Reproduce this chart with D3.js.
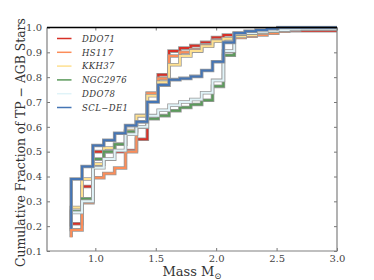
<!doctype html>
<html>
<head>
<meta charset="utf-8">
<script src="https://d3js.org/d3.v7.min.js"></script>
<style>
body { margin: 0; background: #fff; }
</style>
</head>
<body>
<svg width="374" height="280"></svg>
<script>
// bin edges of the cumulative histograms (Msun)
var edges = [0.80, 0.89, 0.98, 1.07, 1.16, 1.25, 1.34, 1.43, 1.52, 1.61, 1.70, 1.79, 1.88,
             1.97, 2.06, 2.15, 2.24, 2.33, 2.42, 2.51, 2.60, 2.69, 2.78, 2.87, 2.96]
var names = ["DDO71", "HS117", "KKH37", "NGC2976", "DDO78", "SCL\u2212DE1"]
var colors = ["#d73027", "#fc8d59", "#fee090", "#5b9a5b", "#e0f3f8", "#4575b4"]
var start_vals = [0.18, 0.155, 0.2, 0.2, 0.2, 0.19]

var ddo71   = [0.21, 0.36, 0.50, 0.50, 0.50, 0.505, 0.55, 0.735, 0.81, 0.905, 0.917, 0.927, 0.94,
               0.96, 0.97, 0.977, 0.982, 0.985, 0.987, 0.987, 0.987, 0.987, 0.987, 0.987, 0.987]
var hs117   = [0.185, 0.295, 0.395, 0.412, 0.434, 0.50, 0.645, 0.735, 0.795, 0.885, 0.90, 0.91, 0.93,
               0.948, 0.955, 0.96, 0.965, 0.97, 0.977, 0.985, 0.99, 0.993, 0.995, 0.995, 0.995]
var kkh37   = [0.275, 0.39, 0.45, 0.515, 0.53, 0.585, 0.645, 0.725, 0.78, 0.85, 0.885, 0.905, 0.925,
               0.945, 0.955, 0.965, 0.97, 0.978, 0.985, 0.99, 0.993, 0.995, 0.995, 0.995, 0.995]
var ngc2976 = [0.26, 0.31, 0.47, 0.50, 0.53, 0.58, 0.60, 0.633, 0.645, 0.665, 0.678, 0.69, 0.707,
               0.763, 0.888, 0.973, 0.977, 0.982, 0.985, 0.99, 0.993, 0.995, 0.995, 0.995, 0.995]
var ddo78   = [0.255, 0.30, 0.435, 0.47, 0.505, 0.57, 0.60, 0.645, 0.667, 0.687, 0.70, 0.71, 0.737,
               0.787, 0.905, 0.975, 0.978, 0.983, 0.987, 0.99, 0.993, 0.995, 0.995, 0.995, 0.995]
var scl_de1 = [0.39, 0.44, 0.525, 0.546, 0.574, 0.605, 0.62, 0.70, 0.768, 0.79, 0.795, 0.803, 0.827,
               0.862, 0.94, 0.978, 0.985, 0.99, 0.995, 1.0, 1.0, 1.0, 1.0, 1.0, 1.0]
var series = [ddo71, hs117, kkh37, ngc2976, ddo78, scl_de1]

var x_ticks = [1.0, 1.5, 2.0, 2.5, 3.0]
var y_ticks = [0.1, 0.2, 0.3, 0.4, 0.5, 0.6, 0.7, 0.8, 0.9, 1.0]

var svg = d3.select("svg")
var p_left = 47, p_right = 337, p_top = 27.5, p_bottom = 251
var font = "'DejaVu Serif', 'Liberation Serif', serif"

var x = d3.scaleLinear().domain([0.6, 3.0]).range([p_left, p_right])
var y = d3.scaleLinear().domain([0.1, 1.0]).range([p_bottom, p_top])

svg.append("defs").append("clipPath").attr("id", "clip")
    .append("rect").attr("x", p_left).attr("y", p_top - 2)
    .attr("width", p_right - p_left).attr("height", p_bottom - p_top + 2)

// data lines, each with a grey outline underneath
var line = d3.line()
    .x(function (d) { return x(d[0]) })
    .y(function (d) { return y(d[1]) })
    .curve(d3.curveStepAfter)

var plot = svg.append("g").attr("clip-path", "url(#clip)")
series.forEach(function (vals, i) {
    var pts = [[edges[0], start_vals[i]]]
    vals.forEach(function (v, k) { pts.push([edges[k], v]) })
    pts.push([3.0, vals[vals.length - 1]])
    plot.append("path").attr("d", line(pts))
        .attr("fill", "none").attr("stroke", "#9a9a9a").attr("stroke-width", 3.6)
    plot.append("path").attr("d", line(pts))
        .attr("fill", "none").attr("stroke", colors[i]).attr("stroke-width", 2)
})

// axes: ticks point inward on all four sides
function style_axis(g) {
    g.select(".domain").remove()
    g.selectAll(".tick line").attr("stroke", "#777")
    g.selectAll(".tick text").attr("font-family", font).attr("font-size", "10px").attr("fill", "#444")
}
svg.append("g").attr("transform", "translate(0," + p_bottom + ")")
    .call(d3.axisBottom(x).tickValues(x_ticks).tickFormat(d3.format(".1f")).tickSizeInner(-3).tickPadding(4))
    .call(style_axis)
svg.append("g").attr("transform", "translate(0," + p_top + ")")
    .call(d3.axisTop(x).tickValues(x_ticks).tickSizeInner(-3).tickFormat(""))
    .call(style_axis)
svg.append("g").attr("transform", "translate(" + p_left + ",0)")
    .call(d3.axisLeft(y).tickValues(y_ticks).tickFormat(d3.format(".1f")).tickSizeInner(-3).tickPadding(5))
    .call(style_axis)
svg.append("g").attr("transform", "translate(" + p_right + ",0)")
    .call(d3.axisRight(y).tickValues(y_ticks).tickSizeInner(-3).tickFormat(""))
    .call(style_axis)

// spines
svg.append("path")
    .attr("d", "M" + p_left + "," + p_top + "V" + p_bottom + "H" + p_right + "V" + p_top)
    .attr("fill", "none").attr("stroke", "#808080").attr("stroke-width", 1.2)
svg.append("line")
    .attr("x1", p_left).attr("x2", p_right).attr("y1", p_top).attr("y2", p_top)
    .attr("stroke", "#000").attr("stroke-width", 1.4)

// axis labels
var xl = svg.append("text")
    .attr("x", (p_left + p_right) / 2).attr("y", 276)
    .attr("text-anchor", "middle").attr("font-family", font).attr("font-size", "13px").attr("fill", "#333")
xl.append("tspan").text("Mass M")
xl.append("tspan").attr("font-size", "8.5px").attr("dy", 2.5).text("\u2299")

svg.append("text")
    .attr("transform", "translate(25,142.5) rotate(-90)")
    .attr("text-anchor", "middle").attr("font-family", font).attr("font-size", "12.4px").attr("fill", "#333")
    .text("Cumulative Fraction of TP \u2212 AGB Stars")

// legend
var legend = svg.append("g")
names.forEach(function (name, i) {
    var ly = 38.5 + i * 13.8
    legend.append("line")
        .attr("x1", 57).attr("x2", 71.5).attr("y1", ly).attr("y2", ly)
        .attr("stroke", colors[i]).attr("stroke-width", 1.5)
    legend.append("text")
        .attr("x", 82).attr("y", ly + 3.3)
        .attr("font-family", font).attr("font-style", "italic").attr("font-size", "8.5px")
        .attr("fill", "#333").attr("letter-spacing", "0.4px")
        .text(name)
})
</script>
</body>
</html>
